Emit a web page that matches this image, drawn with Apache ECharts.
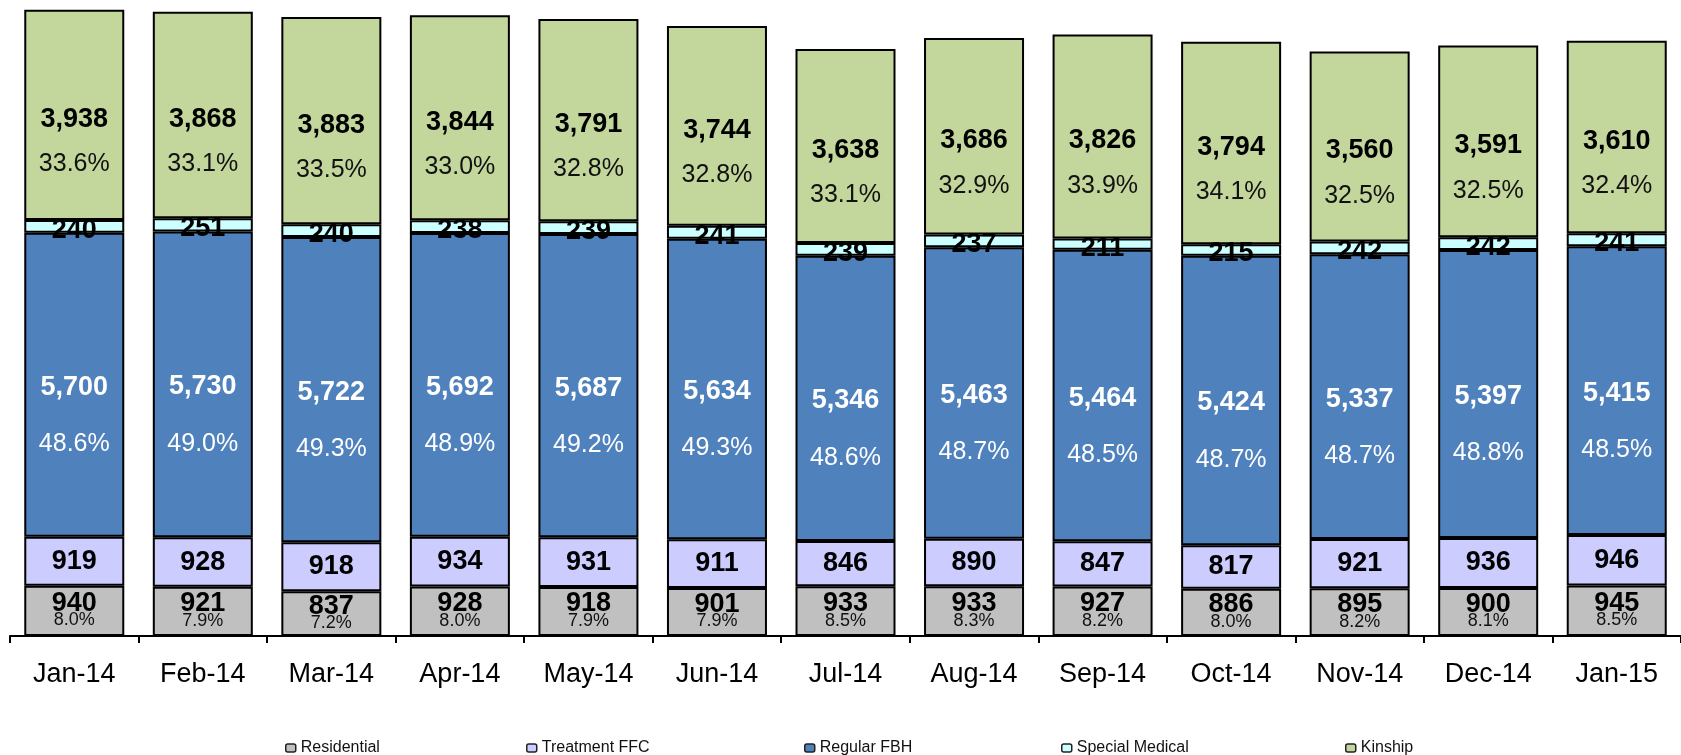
<!DOCTYPE html>
<html>
<head>
<meta charset="utf-8">
<script src="https://cdn.jsdelivr.net/npm/echarts@6/dist/echarts.min.js"></script>
<style>
  html, body { margin: 0; padding: 0; background: #fff; }
  #chart { width: 1681px; height: 755px; }
</style>
</head>
<body>
<div id="chart"></div>
<script>
const months = ['Jan-14', 'Feb-14', 'Mar-14', 'Apr-14', 'May-14', 'Jun-14', 'Jul-14',
    'Aug-14', 'Sep-14', 'Oct-14', 'Nov-14', 'Dec-14', 'Jan-15'];

const residential = [940, 921, 837, 928, 918, 901, 933, 933, 927, 886, 895, 900, 945];
const treatmentFFC = [919, 928, 918, 934, 931, 911, 846, 890, 847, 817, 921, 936, 946];
const regularFBH = [5700, 5730, 5722, 5692, 5687, 5634, 5346, 5463, 5464, 5424, 5337, 5397, 5415];
const specialMedical = [240, 251, 240, 238, 239, 241, 239, 237, 211, 215, 242, 242, 241];
const kinship = [3938, 3868, 3883, 3844, 3791, 3744, 3638, 3686, 3826, 3794, 3560, 3591, 3610];

// percent labels as printed on the bars
const residentialPct = ['8.0%', '7.9%', '7.2%', '8.0%', '7.9%', '7.9%', '8.5%', '8.3%', '8.2%', '8.0%', '8.2%', '8.1%', '8.5%'];
const regularPct = ['48.6%', '49.0%', '49.3%', '48.9%', '49.2%', '49.3%', '48.6%', '48.7%', '48.5%', '48.7%', '48.7%', '48.8%', '48.5%'];
const kinshipPct = ['33.6%', '33.1%', '33.5%', '33.0%', '32.8%', '32.8%', '33.1%', '32.9%', '33.9%', '34.1%', '32.5%', '32.5%', '32.4%'];

const font = '"Liberation Sans", Arial, sans-serif';
const fmt = v => v.toLocaleString('en-US');

function barSeries(name, data, color, label) {
    return {
        name: name,
        type: 'bar',
        stack: 'total',
        barWidth: 100,
        data: data,
        itemStyle: { color: color, borderColor: '#000', borderWidth: 2 },
        label: label,
        emphasis: { disabled: true }
    };
}

const chart = echarts.init(document.getElementById('chart'));

const legendPos = [285, 526, 804, 1061, 1345];
const names = ['Residential', 'Treatment FFC', 'Regular FBH', 'Special Medical', 'Kinship'];

chart.setOption({
    animation: false,
    textStyle: { fontFamily: font },
    grid: { left: 10, width: 1680, top: 0, bottom: 119 },
    legend: names.map((n, i) => ({
        data: [n],
        left: legendPos[i],
        top: 740,
        padding: 0,
        itemWidth: 10,
        itemHeight: 8,
        itemGap: 4,
        selectedMode: false,
        itemStyle: { borderColor: '#222', borderWidth: 1.5 },
        textStyle: { fontSize: 16, color: '#111', fontFamily: font, padding: [6, 0, 0, 0] }
    })),
    xAxis: {
        type: 'category',
        data: months,
        axisLine: { lineStyle: { color: '#000', width: 2 } },
        axisTick: { show: true, interval: 0, length: 7, lineStyle: { color: '#000', width: 2 } },
        axisLabel: { fontSize: 27, color: '#000', margin: 25, fontFamily: font }
    },
    yAxis: {
        type: 'value',
        min: 0,
        max: 11920,
        show: false,
        splitLine: { show: false }
    },
    series: [
        barSeries('Residential', residential, '#c0c0c0', {
            show: true,
            position: 'inside',
            offset: [0, 1],
            formatter: p => '{a|' + fmt(p.value) + '}\n{b|' + residentialPct[p.dataIndex] + '}',
            rich: {
                a: { fontSize: 27, fontWeight: 'bold', color: '#000', lineHeight: 17, fontFamily: font },
                b: { fontSize: 18, color: '#111', lineHeight: 17, fontFamily: font }
            }
        }),
        barSeries('Treatment FFC', treatmentFFC, '#ccccff', {
            show: true,
            position: 'inside',
            formatter: p => fmt(p.value),
            fontSize: 27, fontWeight: 'bold', color: '#000', fontFamily: font
        }),
        barSeries('Regular FBH', regularFBH, '#4f81bd', {
            show: true,
            position: 'inside',
            offset: [0, 31],
            formatter: p => '{a|' + fmt(p.value) + '}\n{b|' + regularPct[p.dataIndex] + '}',
            rich: {
                a: { fontSize: 27, fontWeight: 'bold', color: '#fff', lineHeight: 57, fontFamily: font },
                b: { fontSize: 25, color: '#fff', lineHeight: 57, fontFamily: font }
            }
        }),
        barSeries('Special Medical', specialMedical, '#ccffff', {
            show: true,
            position: 'inside',
            offset: [0, 4],
            formatter: p => fmt(p.value),
            fontSize: 27, fontWeight: 'bold', color: '#000', fontFamily: font
        }),
        barSeries('Kinship', kinship, '#c3d69b', {
            show: true,
            position: 'inside',
            offset: [0, 27],
            formatter: p => '{a|' + fmt(p.value) + '}\n{b|' + kinshipPct[p.dataIndex] + '}',
            rich: {
                a: { fontSize: 27, fontWeight: 'bold', color: '#000', lineHeight: 45, fontFamily: font },
                b: { fontSize: 25, color: '#111', lineHeight: 45, fontFamily: font }
            }
        })
    ]
});

window.addEventListener('resize', () => chart.resize());
</script>
</body>
</html>
